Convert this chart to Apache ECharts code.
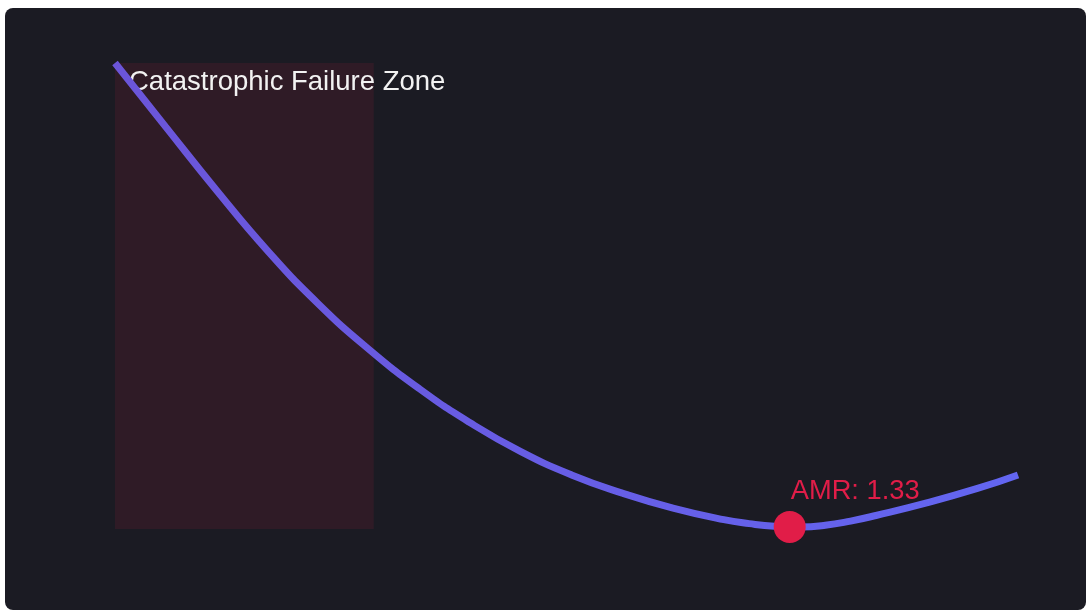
<!DOCTYPE html>
<html>
<head>
<meta charset="utf-8">
<script src="https://cdn.jsdelivr.net/npm/echarts@6/dist/echarts.min.js"></script>
<style>
  html, body { margin: 0; padding: 0; background: #ffffff; overflow: hidden; }
  #chart { position: absolute; left: 5px; top: 8px; width: 1081px; height: 602px; background: #1b1b23; border-radius: 8px; }
</style>
</head>
<body>
<div id="chart"></div>
<script>
// AMR values (x) and relative loss (y)
const amrValues = [0, 0.1, 0.2, 0.3, 0.4, 0.5, 0.6, 0.7, 0.8, 0.9, 1.0, 1.1, 1.2, 1.25, 1.3, 1.35, 1.4, 1.45, 1.5, 1.6, 1.7, 1.78];
const lossValues = [100, 86.3, 72.7, 59.8, 48.4, 38.6, 30.1, 22.8, 16.6, 11.6, 7.7, 4.5, 2.0, 1.15, 0.6, 0.45, 0.8, 1.7, 2.9, 5.6, 8.7, 11.6];
const failureZone = [0, 0.51];
const failureZoneLabel = 'Catastrophic Failure Zone';
const optimum = [1.33, 0.45];
const optimumLabel = 'AMR: 1.33';

const chart = echarts.init(document.getElementById('chart'));
chart.setOption({
  animation: false,
  backgroundColor: 'transparent',
  grid: { left: 110, right: 68, top: 55, bottom: 81 },
  xAxis: { type: 'value', min: 0, max: 1.78, show: false },
  yAxis: { type: 'value', min: 0, max: 100, show: false },
  series: [
    {
      type: 'line',
      data: amrValues.map((x, i) => [x, lossValues[i]]),
      smooth: 0.5,
      showSymbol: false,
      lineStyle: {
        width: 7,
        color: new echarts.graphic.LinearGradient(0, 0, 1, 0, [
          { offset: 0, color: '#6b55d9' },
          { offset: 1, color: '#6366f1' }
        ])
      },
      markArea: {
        silent: true,
        itemStyle: { color: 'rgba(225,29,72,0.1)' },
        label: {
          show: true,
          position: [14, 5],
          color: '#f2f2f2',
          fontSize: 27.5,
          fontFamily: 'Liberation Sans, Arial, sans-serif'
        },
        data: [[
          { name: failureZoneLabel, xAxis: failureZone[0] },
          { xAxis: failureZone[1] }
        ]]
      },
      z: 2
    },
    {
      type: 'scatter',
      data: [optimum],
      symbolSize: 32,
      itemStyle: { color: '#e11d48', opacity: 1 },
      label: {
        show: true,
        formatter: optimumLabel,
        position: [17, -33],
        color: '#e11d48',
        fontSize: 27.3,
        fontFamily: 'Liberation Sans, Arial, sans-serif'
      },
      z: 3
    }
  ]
});
</script>
</body>
</html>
